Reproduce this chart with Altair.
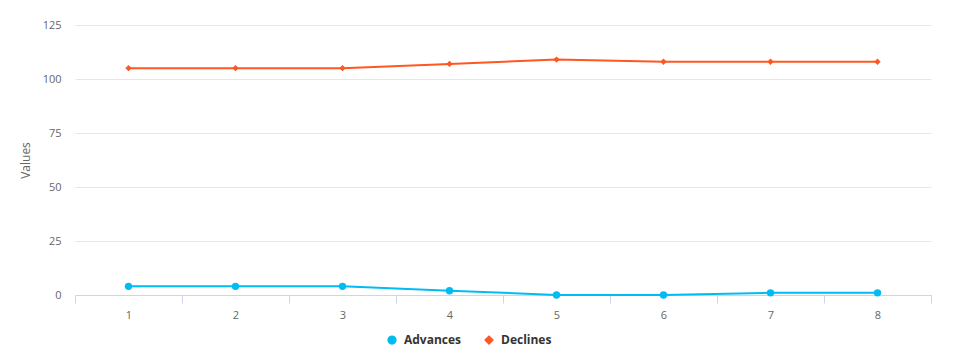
import altair as alt
import pandas as pd

categories = ["1", "2", "3", "4", "5", "6", "7", "8"]
advances = [4, 4, 4, 2, 0, 0, 1, 1]
declines = [105, 105, 105, 107, 109, 108, 108, 108]
series_names = ["Advances", "Declines"]
series_colors = ["#00bcf2", "#fe5722"]
series_shapes = ["circle", "diamond"]

rows = []
for c, a, d in zip(categories, advances, declines):
    rows.append({"cat": c, "series": "Advances", "value": a})
    rows.append({"cat": c, "series": "Declines", "value": d})
df = pd.DataFrame(rows)

FONT = "Open Sans"

x = alt.X("cat:N", sort=categories, title=None,
          scale=alt.Scale(type="band", paddingInner=0, paddingOuter=0),
          axis=alt.Axis(labelAngle=0, tickBand="extent", grid=False,
                        domainColor="#ccd6eb", tickColor="#ccd6eb", tickSize=8,
                        labelColor="#666666", labelFontSize=11, labelPadding=6,
                        labelFont=FONT))
y = alt.Y("value:Q", title="Values",
          scale=alt.Scale(domain=[0, 125], nice=False),
          axis=alt.Axis(values=[0, 25, 50, 75, 100, 125], domain=False, ticks=False,
                        gridColor="#e6e6e6", labelColor="#666666", labelFontSize=11,
                        labelPadding=14, titleColor="#666666", titleFontSize=12,
                        titleFontWeight="normal", titlePadding=10, labelFont=FONT,
                        titleFont=FONT))
color = alt.Color("series:N", scale=alt.Scale(domain=series_names, range=series_colors),
                  legend=alt.Legend(title=None, orient="none", direction="horizontal",
                                    legendX=311, legendY=309,
                                    labelFontWeight="bold", labelFontSize=12,
                                    labelColor="#333333", labelFont=FONT,
                                    symbolSize=60, columnPadding=20, labelOffset=6))
shape = alt.Shape("series:N", scale=alt.Scale(domain=series_names, range=series_shapes),
                  legend=None)

base = alt.Chart(df)
lines = base.mark_line(strokeWidth=2).encode(x=x, y=y, color=color)
pts = base.mark_point(filled=True, opacity=1).encode(
    x=x, y=y, color=color, shape=shape,
    size=alt.condition(alt.datum.series == "Advances", alt.value(55), alt.value(40)))

chart = alt.layer(lines, pts).properties(
    width=856, height=270,
    autosize=alt.AutoSizeParams(type="none"),
    padding={"left": 67, "top": 17, "right": 22, "bottom": 55},
).configure_view(stroke=None)

chart.save("out.html", embed_options={"renderer": "svg", "actions": False})
